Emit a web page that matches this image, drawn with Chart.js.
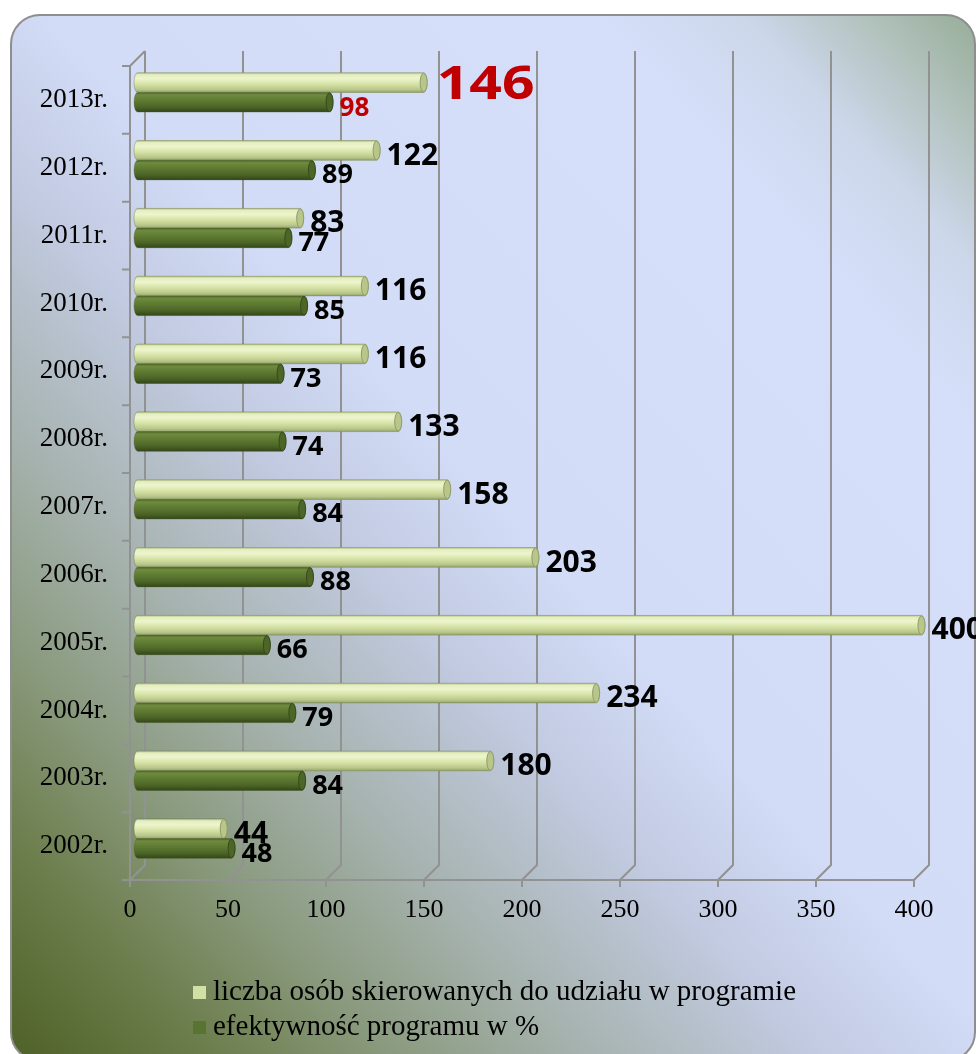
<!DOCTYPE html>
<html>
<head>
<meta charset="utf-8">
<script src="https://cdn.jsdelivr.net/npm/chart.js@4.4.1/dist/chart.umd.min.js"></script>
<style>
html,body{margin:0;padding:0;background:#ffffff;}
#bg{position:absolute;left:10px;top:14px;width:962px;height:1044px;border:2px solid #8e8e8e;border-radius:30px;
background:linear-gradient(to top right,#4e6127 0%,#6a7c49 10%,#8a9a7e 20%,#a6b2ae 30%,#c1cae0 42%,#d3dcf7 52%,#d6dffa 80%,#ccd7ea 88%,#b3c3bf 94%,#97ad98 100%);}
#wrap{position:absolute;left:0;top:0;width:976px;height:1054px;}
</style>
</head>
<body>
<div id="bg"></div>
<div id="wrap"><canvas id="c"></canvas></div>
<script>
// ---- data ----
const years = ['2002r.','2003r.','2004r.','2005r.','2006r.','2007r.','2008r.','2009r.','2010r.','2011r.','2012r.','2013r.'];
const skierowani = [44,180,234,400,203,158,133,116,116,83,122,146];
const efektywnosc = [48,84,79,66,88,84,74,73,85,77,89,98];
const xTickValues = [0,50,100,150,200,250,300,350,400];
const seriesNames = ['liczba osób skierowanych do udziału w programie','efektywność programu w %'];

const DEPTH = 7.5;
const serif = '"Liberation Serif","Times New Roman",serif';
const sans = '"Open Sans","Noto Sans",sans-serif';

const palettes = [
  {base:'#d3e0a3', stops:[[0,'#b3c186'],[0.1,'#e4eec0'],[0.3,'#ecf5cc'],[0.6,'#d4e1a3'],[0.85,'#b9c78b'],[1,'#96a56c']], cap:'#b8c68a', capEdge:'#8f9c68'},
  {base:'#587430', stops:[[0,'#4a6325'],[0.12,'#6e8b3d'],[0.4,'#5f7b33'],[0.75,'#4b6426'],[1,'#33451a']], cap:'#4d6627', capEdge:'#364a1b'}
];

const frame3d = {
  id:'frame3d',
  beforeDatasetsDraw(chart){
    const ctx = chart.ctx, xs = chart.scales.x, ys = chart.scales.y, ca = chart.chartArea;
    ctx.save();
    ctx.strokeStyle = '#929292';
    ctx.lineWidth = 2;
    ctx.lineCap = 'butt';
    const topB = ca.top - DEPTH, botB = ca.bottom - DEPTH, botF = ca.bottom + DEPTH;
    xTickValues.forEach(v=>{
      const xm = xs.getPixelForValue(v);
      ctx.beginPath();
      ctx.moveTo(xm + DEPTH, topB);
      ctx.lineTo(xm + DEPTH, botB);
      ctx.lineTo(xm - DEPTH, botF);
      ctx.lineTo(xm - DEPTH, botF + 7);
      ctx.stroke();
    });
    const x0f = xs.getPixelForValue(0) - DEPTH;
    const xEnd = xs.getPixelForValue(xTickValues[xTickValues.length-1]) - DEPTH;
    ctx.beginPath();
    ctx.moveTo(x0f + 2*DEPTH, topB);
    ctx.lineTo(x0f, ca.top + DEPTH);
    ctx.lineTo(x0f, botF);
    ctx.moveTo(x0f - 8, botF);
    ctx.lineTo(xEnd, botF);
    ctx.stroke();
    // category tick marks on the front-left edge
    const n = years.length;
    const step = Math.abs(ys.getPixelForValue(1) - ys.getPixelForValue(0));
    ctx.beginPath();
    for(let i=0;i<n;i++){
      const yb = ys.getPixelForValue(i) - step/2;
      ctx.moveTo(x0f - 8, yb + DEPTH);
      ctx.lineTo(x0f, yb + DEPTH);
    }
    ctx.stroke();
    ctx.restore();
  },
  afterDatasetsDraw(chart){
    const ctx = chart.ctx;
    // cylinders
    chart.data.datasets.forEach((ds, di)=>{
      const meta = chart.getDatasetMeta(di);
      const pal = palettes[di];
      meta.data.forEach((el)=>{
        const p = el.getProps(['x','y','base','height'], true);
        const h = p.height, y0 = p.y - h/2, y1 = p.y + h/2;
        const rx = 3.5, ry = h/2;
        const g = ctx.createLinearGradient(0, y0, 0, y1);
        pal.stops.forEach(s=>g.addColorStop(s[0], s[1]));
        ctx.save();
        ctx.beginPath();
        ctx.ellipse(p.base, p.y, rx, ry, 0, Math.PI/2, Math.PI*1.5);
        ctx.lineTo(p.x, y0);
        ctx.ellipse(p.x, p.y, rx, ry, 0, -Math.PI/2, Math.PI/2);
        ctx.closePath();
        ctx.fillStyle = g;
        ctx.fill();
        ctx.strokeStyle = 'rgba(90,100,60,0.35)';
        ctx.lineWidth = 1;
        ctx.stroke();
        // end cap
        ctx.beginPath();
        ctx.ellipse(p.x, p.y, rx, ry - 0.5, 0, 0, Math.PI*2);
        ctx.fillStyle = pal.cap;
        ctx.fill();
        ctx.strokeStyle = pal.capEdge;
        ctx.stroke();
        ctx.restore();
      });
    });
    // value labels
    const last = years.length - 1;
    chart.data.datasets.forEach((ds, di)=>{
      const meta = chart.getDatasetMeta(di);
      meta.data.forEach((el, i)=>{
        const p = el.getProps(['x','y'], true);
        let size = di === 0 ? 30 : 27;
        let color = '#000000';
        let dy = 3.5, dx = 10, sx = 1;
        if(i === last){
          color = '#c00000';
          if(di === 0){ size = 46; dy = 0; dx = 13; sx = 1.24; } else { size = 26; dy = 4; }
        }
        ctx.save();
        ctx.font = 'bold ' + size + 'px ' + sans;
        ctx.fillStyle = color;
        ctx.textAlign = 'left';
        ctx.textBaseline = 'alphabetic';
        ctx.translate(p.x + dx, p.y + dy + 0.357*size);
        ctx.scale(sx, 1);
        ctx.fillText(String(ds.data[i]), 0, 0);
        ctx.restore();
      });
    });
  },
  afterDraw(chart){
    const ctx = chart.ctx;
    const items = [[193, 992],[193, 1027]];
    ctx.save();
    ctx.font = '29px ' + serif;
    ctx.textBaseline = 'middle';
    ctx.textAlign = 'left';
    chart.data.datasets.forEach((ds, di)=>{
      const [lx, ly] = items[di];
      ctx.fillStyle = palettes[di].base;
      ctx.fillRect(lx, ly - 6, 13, 13);
      ctx.fillStyle = '#000';
      ctx.fillText(ds.label, lx + 20, ly);
    });
    ctx.restore();
  }
};

new Chart(document.getElementById('c'), {
  type:'bar',
  data:{
    labels: years,
    datasets:[
      {label: seriesNames[0], data: skierowani, backgroundColor: palettes[0].base, borderWidth:0},
      {label: seriesNames[1], data: efektywnosc, backgroundColor: palettes[1].base, borderWidth:0}
    ]
  },
  options:{
    indexAxis:'y',
    responsive:true,
    maintainAspectRatio:false,
    animation:false,
    devicePixelRatio:1,
    datasets:{bar:{categoryPercentage:0.58, barPercentage:1}},
    layout:{padding:{left:0, top:58.5, right:54.5, bottom:0}},
    plugins:{legend:{display:false}, tooltip:{enabled:false}},
    scales:{
      x:{
        type:'linear', min:0, max:400,
        afterBuildTicks(scale){ scale.ticks = xTickValues.map(v=>({value:v})); },
        afterFit(scale){ scale.height = 181.5; },
        grid:{display:false, drawTicks:false},
        border:{display:false},
        ticks:{font:{family:serif, size:26}, color:'#000', padding:22, labelOffset:-DEPTH, maxRotation:0, autoSkip:false}
      },
      y:{
        type:'category', reverse:true,
        afterFit(scale){ scale.width = 137.5; },
        grid:{display:false, drawTicks:false},
        border:{display:false},
        ticks:{font:{family:serif, size:27}, color:'#000', padding:29.5, labelOffset:DEPTH, autoSkip:false}
      }
    }
  },
  plugins:[frame3d]
});
</script>
</body>
</html>
